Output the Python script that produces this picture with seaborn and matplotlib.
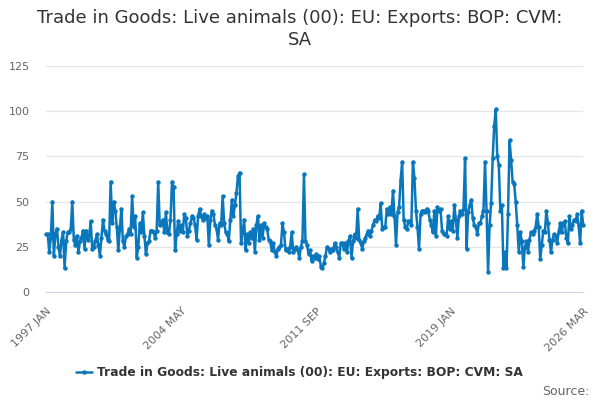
import matplotlib
matplotlib.use("Agg")
import matplotlib.pyplot as plt
import seaborn as sns
import pandas as pd
import numpy as np

# monthly values, 1997 JAN .. 2026 MAR
exports_1997_2001 = [32, 32, 22, 30, 50, 20, 32, 35, 25, 20,
                     29, 33, 13, 28, 33, 33, 35, 50, 29, 26,
                     31, 22, 28, 30, 34, 24, 34, 29, 31, 39,
                     24, 25, 28, 32, 26, 20, 30, 40, 34, 32,
                     29, 28, 61, 38, 50, 45, 36, 23, 35, 46,
                     28, 25, 31, 32, 35, 32, 53, 36, 42, 19]
exports_2002_2007 = [25, 38, 33, 44, 31, 21, 27, 28, 34, 34,
                     33, 30, 34, 61, 37, 38, 40, 33, 44, 33,
                     32, 40, 61, 58, 23, 32, 39, 34, 37, 33,
                     43, 41, 31, 34, 38, 42, 41, 37, 29, 42,
                     46, 42, 40, 43, 41, 42, 26, 40, 45, 43,
                     37, 35, 29, 38, 37, 53, 38, 33, 32, 28,
                     40, 51]
exports_2007_2012 = [42, 48, 55, 64, 66, 27, 33, 40, 23, 32,
                     27, 33, 30, 35, 22, 37, 42, 29, 37, 30,
                     38, 36, 35, 29, 28, 23, 27, 22, 20, 24,
                     25, 26, 38, 33, 23, 24, 22, 25, 33, 22,
                     24, 25, 23, 19, 25, 28, 65, 28, 26, 21,
                     23, 17, 20, 19, 21, 18, 20, 14, 13, 16,
                     20, 25]
exports_2012_2017 = [24, 22, 24, 23, 27, 25, 22, 19, 27, 27,
                     24, 27, 22, 28, 31, 19, 28, 32, 30, 46,
                     29, 27, 24, 28, 30, 32, 34, 31, 34, 37,
                     40, 39, 42, 41, 49, 35, 36, 36, 46, 43,
                     47, 43, 56, 42, 26, 44, 47, 62, 72, 40,
                     36, 35, 39, 39, 37, 72, 63, 45, 36, 24,
                     43, 45]
exports_2017_2021 = [45, 44, 46, 45, 40, 37, 33, 45, 31, 47,
                     45, 46, 34, 32, 32, 31, 42, 35, 39, 34,
                     48, 40, 30, 42, 45, 43, 46, 74, 24, 44,
                     48, 51, 41, 37, 36, 32, 38, 38, 42, 45,
                     72, 45, 11, 37, 49, 74, 92, 101, 75, 70,
                     45, 48, 13, 22]
exports_2022_2026 = [13, 43, 84, 73, 61, 60, 50, 37, 22, 33,
                     28, 14, 25, 28, 22, 29, 33, 32, 34, 36,
                     43, 36, 18, 26, 34, 33, 45, 38, 29, 22,
                     29, 32, 31, 27, 33, 38, 33, 38, 39, 30,
                     27, 42, 35, 37, 40, 39, 43, 37, 27, 45,
                     37]

series_name = "Trade in Goods: Live animals (00): EU: Exports: BOP: CVM: SA"
yticks = [0, 25, 50, 75, 100, 125]

values = (exports_1997_2001 + exports_2002_2007 + exports_2007_2012
          + exports_2012_2017 + exports_2017_2021 + exports_2022_2026)
months = pd.date_range("1997-01-01", "2026-03-01", freq="MS")
df = pd.DataFrame({"month": months, "idx": np.arange(len(months)), "value": values})

blue = "#0a77bd"
sns.set_style("white")
plt.rcParams['font.family'] = ['DejaVu Sans']

fig = plt.figure(figsize=(6, 4), dpi=100)
ax = fig.add_axes([0.077, 0.27, 0.895, 0.565])

sns.lineplot(data=df, x="idx", y="value", ax=ax, color=blue, lw=1.8,
             marker="o", markersize=3.2, markeredgewidth=0, label=series_name,
             legend=False, clip_on=False)

ax.set_xlim(0, len(months) - 1)
ax.set_ylim(0, 125)
ax.set_yticks(yticks)
ax.set_yticklabels([str(v) for v in yticks], fontsize=8, color="#666666")
ax.grid(axis="y", color="#e6e6e6", lw=1)
ax.set_axisbelow(True)
ax.set_xlabel("")
ax.set_ylabel("")

# ticks every 22 months, labels every 88
tick_pos = list(range(0, len(months) - 1, 22)) + [len(months) - 1]
tick_lab = []
for p in tick_pos:
    if p % 88 == 0 or p == len(months) - 1:
        tick_lab.append(months[p].strftime("%Y %b").upper())
    else:
        tick_lab.append("")
ax.set_xticks(tick_pos)
ax.set_xticklabels(tick_lab, rotation=45, ha="right", rotation_mode="anchor",
                   fontsize=8, color="#666666")
ax.tick_params(axis="x", length=7, width=1, color="#ccd6eb", pad=3)
ax.tick_params(axis="y", length=0, pad=12)

for s in ["top", "right", "left"]:
    ax.spines[s].set_visible(False)
ax.spines["bottom"].set_color("#ccd6eb")

fig.text(0.5, 0.955, "Trade in Goods: Live animals (00): EU: Exports: BOP: CVM:",
         ha="center", va="center", fontsize=13, color="#333333")
fig.text(0.5, 0.9, "SA", ha="center", va="center", fontsize=13, color="#333333")

handles, labels = ax.get_legend_handles_labels()
fig.legend(handles, labels, loc="center", bbox_to_anchor=(0.499, 0.068),
           frameon=False, prop={"weight": "bold", "size": 8.8},
           labelcolor="#333333", handlelength=1.3, handletextpad=0.45)

fig.text(0.982, 0.021, "Source:", ha="right", va="center", fontsize=9, color="#666666")

fig.savefig("out.png", dpi=100)
